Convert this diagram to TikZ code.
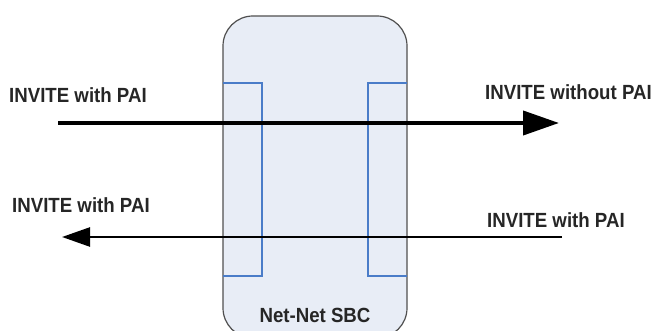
\documentclass[tikz,border=0pt]{standalone}
\usepackage{fontspec}
\setmainfont{Liberation Sans}
\usetikzlibrary{arrows.meta}
\definecolor{boxfill}{HTML}{E8EDF6}
\definecolor{boxline}{HTML}{505050}
\definecolor{portblue}{HTML}{4A7CC8}
\newcommand{\lbltxt}[1]{\scalebox{0.91}[1]{#1}}
\tikzset{
  lbl/.style={font=\bfseries\fontsize{20.5}{23}\selectfont, text=black!85, inner sep=0pt},
  port/.style={draw=portblue, line width=2.4pt},
  bigarrow/.style={line width=4pt, -{Triangle[length=36pt,width=24pt]}},
  smallarrow/.style={line width=2.5pt, -{Triangle[length=28pt,width=19pt]}},
}
\begin{document}
\begin{tikzpicture}[x=1pt,y=-1pt]
\useasboundingbox (0,0) rectangle (654,331);
\begin{scope}
\clip (0,0) rectangle (654,331);
\draw[boxline, fill=boxfill, line width=1.2pt, rounded corners=30pt] (223,16) rectangle (407,338);
\end{scope}
\node[lbl, anchor=base] (sbc) at (315,323) {\lbltxt{Net-Net SBC}};
% ports
\draw[port] (223,83) -- (262,83) -- (262,276) -- (223,276);
\draw[port] (407,83) -- (368,83) -- (368,276) -- (407,276);
% labels
\node[lbl, anchor=west] (l1) at (9,95) {\lbltxt{INVITE with PAI}};
\node[lbl, anchor=west] (r1) at (485,92) {\lbltxt{INVITE without PAI}};
\node[lbl, anchor=west] (l2) at (12,205) {\lbltxt{INVITE with PAI}};
\node[lbl, anchor=west] (r2) at (487,220) {\lbltxt{INVITE with PAI}};
% arrows
\coordinate (a1s) at (58,123);
\coordinate (a1e) at (559,123);
\coordinate (a2s) at (562,237);
\coordinate (a2e) at (62,237);
\draw[bigarrow] (a1s) -- (a1e);
\draw[smallarrow] (a2s) -- (a2e);
\end{tikzpicture}
\end{document}
